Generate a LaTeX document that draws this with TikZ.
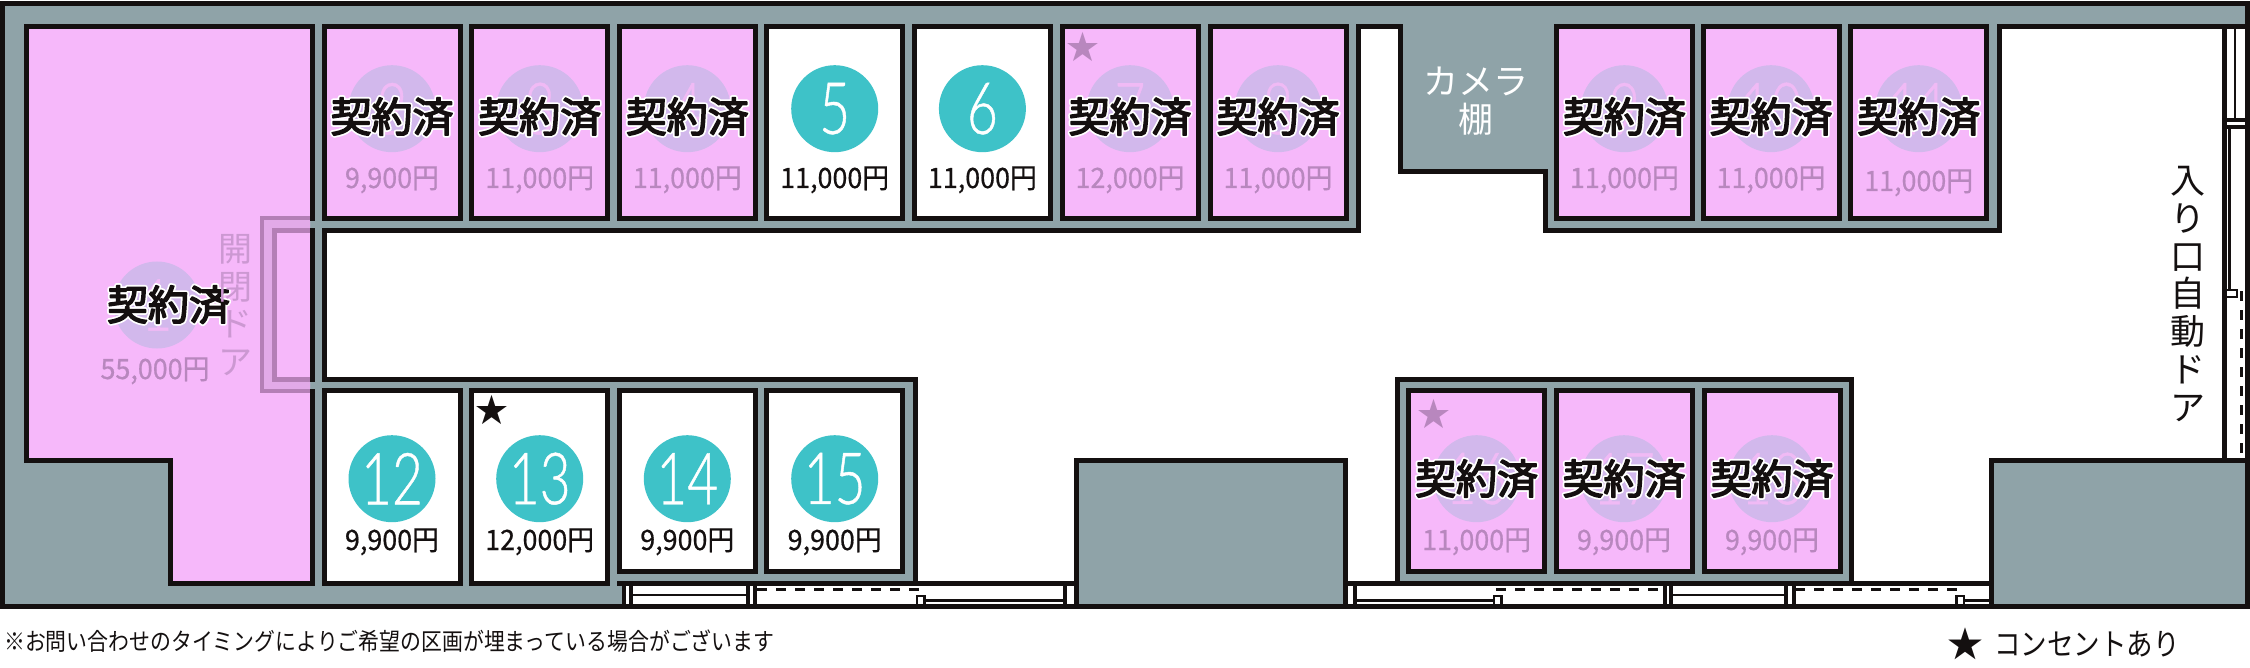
\documentclass[tikz,border=0pt]{standalone}
\usepackage{fontspec}
\setmainfont{Noto Sans CJK JP}
\newfontfamily\numfont[FakeStretch=0.74,FakeBold=0.6]{Lato Light}
\newfontfamily\narrowfont[FakeStretch=0.87]{Noto Sans CJK JP}
\newfontfamily\pricefont[FakeStretch=0.96,FakeBold=0.6]{Noto Sans CJK JP}
\usepackage{tikz}
\usetikzlibrary{arrows.meta}
\newcommand{\haloed}[1]{\leavevmode\rlap{\special{pdf:code q 1 Tr 1 1 1 RG 5 w 1 j}#1\special{pdf:code Q}}\special{pdf:code q 2 Tr 0.08 0.06 0.06 RG 1.5 w 1 j}#1\special{pdf:code Q}}
\definecolor{wallgray}{HTML}{8FA3A8}
\definecolor{soldpink}{HTML}{F6B8FA}
\definecolor{soldcirc}{HTML}{D2B8EC}
\definecolor{soldnum}{HTML}{F0BAF5}
\definecolor{soldtext}{HTML}{B887BE}
\definecolor{doorline}{HTML}{B47FB6}
\definecolor{doorband}{HTML}{E2AAE8}
\definecolor{doortext}{HTML}{CC98D2}
\definecolor{freeteal}{HTML}{3EC2C8}
\definecolor{inkblack}{HTML}{141010}
\tikzset{
  wall/.style={draw=inkblack, line width=5pt, miter limit=10},
  freebox/.style={draw=inkblack, line width=5pt, fill=white, minimum width=136pt, inner sep=0pt},
  soldbox/.style={draw=inkblack, line width=5pt, fill=soldpink, minimum width=136pt, inner sep=0pt},
  freecirc/.style={circle, fill=freeteal, text=white, minimum size=87pt, inner sep=0pt, font=\fontsize{72}{72}\numfont},
  soldc/.style={circle, fill=soldcirc, text=soldnum, minimum size=87pt, inner sep=0pt, font=\fontsize{72}{72}\numfont},
  freeprice/.style={anchor=base, inner sep=0pt, text=inkblack, font=\fontsize{28}{28}\pricefont},
  soldprice/.style={anchor=base, inner sep=0pt, text=soldtext, font=\fontsize{28}{28}\pricefont},
  soldmark/.style={anchor=base, inner sep=0pt, text=inkblack, font=\fontsize{41}{41}\selectfont},
  starmark/.style={inner sep=0pt, font=\fontsize{33}{33}\selectfont},
  doorthin/.style={draw=inkblack, line width=2.6pt},
  doorpost/.style={draw=inkblack, line width=4pt},
  slide/.style={draw=inkblack, line width=3.3pt, dash pattern=on 10pt off 9pt},
}
\begin{document}
\begin{tikzpicture}[x=1pt, y=-1pt]
\useasboundingbox (0,0) rectangle (2250,668);
% 壁と通路
\draw[wall, fill=wallgray] (2.5,3.5) rectangle (2247.5,606.5);
\draw[wall, fill=white] (324,230.5) -- (1358,230.5) -- (1358,26.5) -- (1400,26.5) -- (1400,172) -- (1545.5,172) -- (1545.5,230.5) -- (1999.5,230.5) -- (1999.5,26.5) -- (2247.5,26.5) -- (2247.5,460) -- (1991.5,460) -- (1991.5,583.5) -- (1851,583.5) -- (1851,379.5) -- (1397.5,379.5) -- (1397.5,583.5) -- (1345.5,583.5) -- (1345.5,460) -- (1076,460) -- (1076,583.5) -- (915,583.5) -- (915,379.5) -- (324,379.5) -- cycle;
\fill[white] (623.5,585.5) rectangle (1076,604);
\fill[white] (1345.5,585.5) rectangle (1991.5,604);
\draw[wall] (617,583.5) -- (1076,583.5);
\draw[wall] (1345.5,583.5) -- (1991.5,583.5);
\draw[wall, fill=wallgray] (1076,460) rectangle (1345.5,606.5);
\draw[wall, fill=wallgray] (1991.5,460) rectangle (2247.5,606.5);
% 下のドア
\draw[doorpost] (623.5,583.5) -- (623.5,606.5);
\draw[doorpost] (630.5,583.5) -- (630.5,606.5);
\draw[doorthin] (630.5,595) -- (748,595);
\draw[doorpost] (748,583.5) -- (748,606.5);
\draw[doorpost] (755,583.5) -- (755,606.5);
\draw[slide] (757,589.3) -- (925,589.3);
\draw[doorthin] (917,606) -- (917,596) -- (924.5,596) -- (924.5,606);
\draw[doorthin] (924.5,600.7) -- (1065,600.7);
\draw[doorpost] (1065,583.5) -- (1065,606.5);
\draw[doorpost] (1354.6,583.5) -- (1354.6,606.5);
\draw[doorthin] (1354.6,600.7) -- (1494,600.7);
\draw[doorthin] (1494,606) -- (1494,596) -- (1501.5,596) -- (1501.5,606);
\draw[slide] (1496,589.3) -- (1664,589.3);
\draw[doorpost] (1665.3,583.5) -- (1665.3,606.5);
\draw[doorpost] (1670.6,583.5) -- (1670.6,606.5);
\draw[doorthin] (1670.6,595) -- (1786.3,595);
\draw[doorpost] (1786.3,583.5) -- (1786.3,606.5);
\draw[doorpost] (1793.5,583.5) -- (1793.5,606.5);
\draw[slide] (1795,589.3) -- (1963,589.3);
\draw[doorthin] (1956.5,606) -- (1956.5,596) -- (1964,596) -- (1964,606);
\draw[doorthin] (1964,600.7) -- (1991.5,600.7);
% 入り口のドア
\draw[wall] (2224,26.5) -- (2224,460);
\draw[doorthin] (2235,26.5) -- (2235,120.5);
\draw[doorpost] (2224,120.5) -- (2247.5,120.5);
\draw[doorpost] (2224,127.5) -- (2247.5,127.5);
\draw[doorthin] (2229.5,127.5) -- (2229.5,290);
\draw[doorthin] (2226,290) -- (2237,290) -- (2237,297) -- (2226,297);
\draw[slide] (2241.3,291) -- (2241.3,460);
% 区画
\fill[soldpink] (26.5,26.5) -- (310,26.5) -- (310,583.5) -- (170,583.5) -- (170,460) -- (26.5,460) -- cycle;
\draw[wall] (312,220.7) -- (312,26.5) -- (26.5,26.5) -- (26.5,460) -- (170,460) -- (170,583.5) -- (312,583.5) -- (312,389);
\draw[wall] (312,228.3) -- (312,381.7);
\fill[doorband] (262,218) rectangle (310,391);
\fill[soldpink] (274.5,230.5) rectangle (310,379.5);
\draw[doorline, line width=4.4pt] (310,218) -- (262,218) -- (262,391) -- (310,391);
\draw[doorline, line width=4.4pt] (310,230.5) -- (274.5,230.5) -- (274.5,379.5) -- (310,379.5);
\node[soldbox, minimum height=192pt] (u2) at (392,122.5) {};
\node[soldbox, minimum height=192pt] (u3) at (539.7,122.5) {};
\node[soldbox, minimum height=192pt] (u4) at (687.3,122.5) {};
\node[freebox, minimum height=192pt] (u5) at (834.7,122.5) {};
\node[freebox, minimum height=192pt] (u6) at (982.4,122.5) {};
\node[soldbox, minimum height=192pt] (u7) at (1130,122.5) {};
\node[soldbox, minimum height=192pt] (u8) at (1278,122.5) {};
\node[soldbox, minimum height=192pt] (u9) at (1624.4,122.5) {};
\node[soldbox, minimum height=192pt] (u10) at (1771,122.5) {};
\node[soldbox, minimum height=192pt] (u11) at (1918.7,122.5) {};
\node[freebox, minimum height=192.5pt] (u12) at (392,487.2) {};
\node[freebox, minimum height=192.5pt] (u13) at (539.7,487.2) {};
\node[freebox, minimum height=180.5pt] (u14) at (687.3,481.2) {};
\node[freebox, minimum height=180.5pt] (u15) at (834.7,481.2) {};
\node[soldbox, minimum height=180.5pt] (u16) at (1476.6,481.2) {};
\node[soldbox, minimum height=180.5pt] (u17) at (1624,481.2) {};
\node[soldbox, minimum height=180.5pt] (u18) at (1772,481.2) {};
% 番号
\node[soldc] (c1) at (157,305) {1};
\node[soldc] (c2) at (392,108.7) {2};
\node[soldc] (c3) at (539.7,108.7) {3};
\node[soldc] (c4) at (687.3,108.7) {4};
\node[freecirc] (c5) at (834.7,108.7) {5};
\node[freecirc] (c6) at (982.4,108.7) {6};
\node[soldc] (c7) at (1130,108.7) {7};
\node[soldc] (c8) at (1278,108.7) {8};
\node[soldc] (c9) at (1624.4,108.7) {9};
\node[soldc] (c10) at (1771,108.7) {10};
\node[soldc] (c11) at (1918.7,108.7) {11};
\node[freecirc] (c12) at (392,478.7) {12};
\node[freecirc] (c13) at (539.7,478.7) {13};
\node[freecirc] (c14) at (687.3,478.7) {14};
\node[freecirc] (c15) at (834.7,478.7) {15};
\node[soldc] (c16) at (1476.6,478.7) {16};
\node[soldc] (c17) at (1624,478.7) {17};
\node[soldc] (c18) at (1772,478.7) {18};
% 料金
\node[soldprice] (p1) at (155,379) {55,000円};
\node[soldprice] (p2) at (392,188) {9,900円};
\node[soldprice] (p3) at (539.7,188) {11,000円};
\node[soldprice] (p4) at (687.3,188) {11,000円};
\node[freeprice] (p5) at (834.7,188) {11,000円};
\node[freeprice] (p6) at (982.4,188) {11,000円};
\node[soldprice] (p7) at (1130,188) {12,000円};
\node[soldprice] (p8) at (1278,188) {11,000円};
\node[soldprice] (p9) at (1624.4,188) {11,000円};
\node[soldprice] (p10) at (1771,188) {11,000円};
\node[soldprice] (p11) at (1918.7,191) {11,000円};
\node[freeprice] (p12) at (392,550) {9,900円};
\node[freeprice] (p13) at (539.7,550) {12,000円};
\node[freeprice] (p14) at (687.3,550) {9,900円};
\node[freeprice] (p15) at (834.7,550) {9,900円};
\node[soldprice] (p16) at (1476.6,550) {11,000円};
\node[soldprice] (p17) at (1624,550) {9,900円};
\node[soldprice] (p18) at (1772,550) {9,900円};
% 契約済
\node[soldmark] (m1) at (168.5,320) {\haloed{契約済}};
\node[soldmark] (m2) at (392,132) {\haloed{契約済}};
\node[soldmark] (m3) at (539.7,132) {\haloed{契約済}};
\node[soldmark] (m4) at (687.3,132) {\haloed{契約済}};
\node[soldmark] (m7) at (1130,132) {\haloed{契約済}};
\node[soldmark] (m8) at (1278,132) {\haloed{契約済}};
\node[soldmark] (m9) at (1624.4,132) {\haloed{契約済}};
\node[soldmark] (m10) at (1771,132) {\haloed{契約済}};
\node[soldmark] (m11) at (1918.7,132) {\haloed{契約済}};
\node[soldmark] (m16) at (1476.6,494) {\haloed{契約済}};
\node[soldmark] (m17) at (1624,494) {\haloed{契約済}};
\node[soldmark] (m18) at (1772,494) {\haloed{契約済}};
% 星
\node[starmark, text=soldtext] (s7) at (1082.5,47) {★};
\node[starmark, text=inkblack] (s13) at (491.7,410) {★};
\node[starmark, text=soldtext] (s16) at (1434,414) {★};
% ラベル
\node[text=white, align=center, inner sep=0pt, font=\fontsize{35}{38}\selectfont] (shelf) at (1476,101) {カメラ\\棚};
\node[text=doortext, align=center, inner sep=0pt, font=\fontsize{34}{37.5}\selectfont] (inner door) at (235,305) {開\\閉\\ド\\ア};
\node[text=inkblack, align=center, inner sep=0pt, font=\fontsize{35}{37.8}\selectfont] (entrance) at (2188,294) {入\\り\\口\\自\\動\\ド\\ア};
\node[anchor=west, inner sep=0pt, text=inkblack, font=\fontsize{24}{24}\narrowfont] (note) at (4,641) {※お問い合わせのタイミングによりご希望の区画が埋まっている場合がございます};
\node[starmark, text=inkblack, font=\fontsize{36}{36}\selectfont] (legendstar) at (1965,644) {★};
\node[anchor=west, inner sep=0pt, text=inkblack, font=\fontsize{30.5}{30.5}\narrowfont] (legend) at (1994,644) {コンセントあり};
\end{tikzpicture}
\end{document}
